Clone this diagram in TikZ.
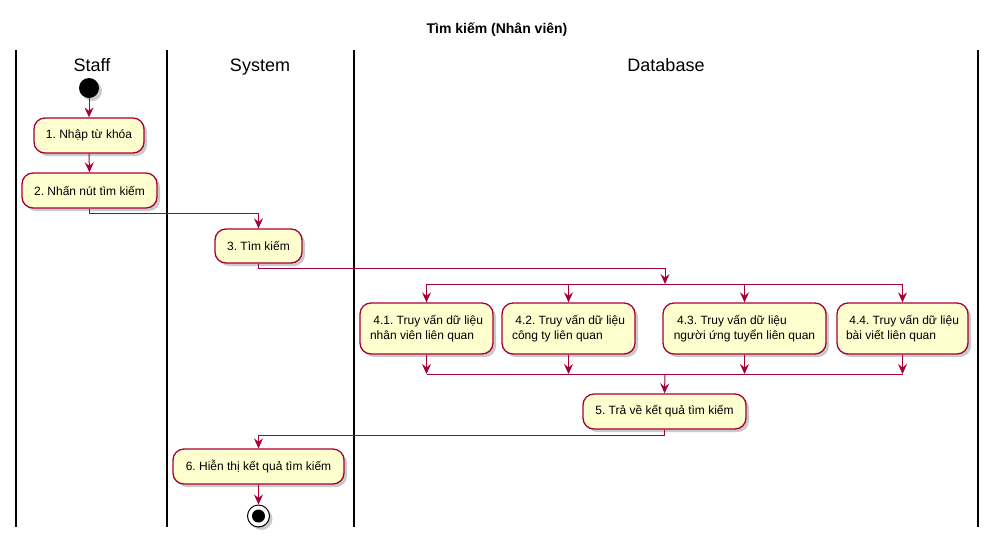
\documentclass[tikz,border=0pt]{standalone}
\usepackage{fontspec}
\setmainfont{Liberation Sans}
\usetikzlibrary{arrows.meta,shadows}
\definecolor{pborder}{HTML}{A80036}
\definecolor{pfill}{HTML}{FEFECE}
\frenchspacing
\tikzset{
  act/.style={draw=pborder, fill=pfill, line width=1.3pt, rounded corners=11pt,
    inner sep=0pt, align=left, font=\fontsize{12}{15}\selectfont\frenchspacing,
    drop shadow={shadow xshift=3pt, shadow yshift=-3pt, opacity=0.35, fill=black!60}},
  arr/.style={draw=pborder, line width=1pt, -{Stealth[length=10pt,width=9pt,inset=3.5pt]}},
  ln/.style={draw=pborder, line width=1pt},
  lane/.style={draw=black, line width=2pt},
  lanehead/.style={font=\fontsize{18}{20}\selectfont, anchor=base},
}
\begin{document}
\begin{tikzpicture}[x=1pt,y=-1pt]
\useasboundingbox (0,0) rectangle (996,542);
% title
\node[font=\bfseries\fontsize{14}{16}\selectfont] (title) at (497,30) {Tìm kiếm (Nhân viên)};
% lanes
\foreach \xx in {16,167,354,978} \draw[lane] (\xx,50) -- (\xx,527);
\node[lanehead] (hstaff) at (92,71) {Staff};
\node[lanehead] (hsys) at (260,71) {System};
\node[lanehead] (hdb) at (666,71) {Database};
% start
\node[circle, fill=black, minimum size=20pt, inner sep=0pt,
  drop shadow={shadow xshift=3pt, shadow yshift=-3pt, opacity=0.35, fill=black!60}] (start) at (89,88) {};
% activities
\node[act, minimum width=110pt, minimum height=35pt] (b1) at (89,135.5) {1. Nhập từ khóa};
\node[act, minimum width=135pt, minimum height=35pt] (b2) at (89.5,190.5) {2. Nhấn nút tìm kiếm};
\node[act, minimum width=87pt, minimum height=34pt] (b3) at (258.5,246) {3. Tìm kiếm};
\node[act, minimum width=133pt, minimum height=51pt] (b41) at (426.5,328.5) {\ 4.1. Truy vấn dữ liệu\\nhân viên liên quan};
\node[act, minimum width=133pt, minimum height=51pt] (b42) at (568.5,328.5) {\ 4.2. Truy vấn dữ liệu\\công ty liên quan};
\node[act, minimum width=163pt, minimum height=51pt] (b43) at (744.5,328.5) {\ 4.3. Truy vấn dữ liệu\\người ứng tuyển liên quan};
\node[act, minimum width=131pt, minimum height=51pt] (b44) at (902.5,328.5) {\ 4.4. Truy vấn dữ liệu\\bài viết liên quan};
\node[act, minimum width=163pt, minimum height=35pt] (b5) at (664.5,411.5) {5. Trả về kết quả tìm kiếm};
\node[act, minimum width=171pt, minimum height=35pt] (b6) at (258.5,466.5) {6. Hiễn thị kết quả tìm kiếm};
% end
\node[circle, draw=black, fill=white, line width=1pt, minimum size=22pt, inner sep=0pt,
  drop shadow={shadow xshift=3pt, shadow yshift=-3pt, opacity=0.35, fill=black!60}] (stop) at (258.5,516) {};
\node[circle, fill=black, minimum size=13pt, inner sep=0pt] (stopin) at (stop) {};
% fork/join coordinates
\coordinate (forkc) at (665,284);
\coordinate (joinc) at (665,374);
% connectors
\draw[arr] (start) -- (b1.north);
\draw[arr] (b1.south) -- (b2.north);
\draw[arr] (b2.south) -- ++(0,5) -| (b3.north);
\draw[arr] (b3.south) -- ++(0,5) -| (forkc);
\draw[ln] (b41.north |- forkc) -- (b44.north |- forkc);
\foreach \b in {b41,b42,b43,b44} {
  \draw[arr] (\b.north |- forkc) -- (\b.north);
  \draw[arr] (\b.south) -- (\b.south |- joinc);
}
\draw[ln] (b41.south |- joinc) -- (b44.south |- joinc);
\draw[arr] (joinc) -- (b5.north);
\draw[arr] (b5.south) -- ++(0,6) -| (b6.north);
\draw[arr] (b6.south) -- (stop.north);
\end{tikzpicture}
\end{document}
